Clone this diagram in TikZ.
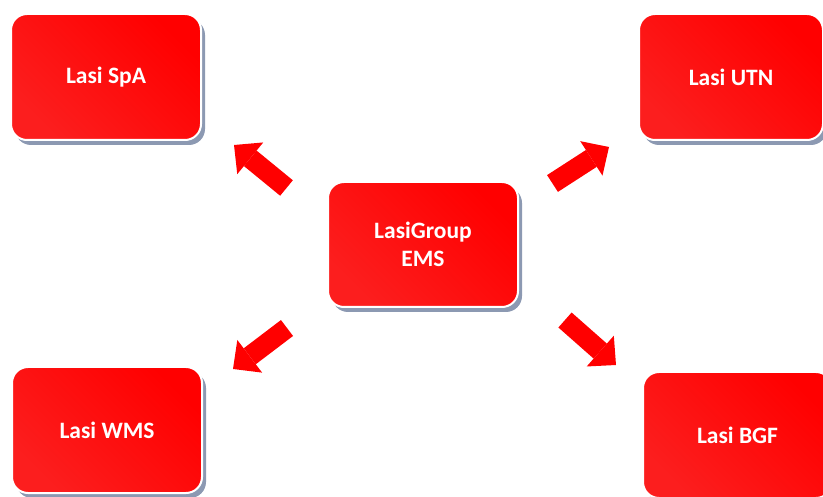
\documentclass[tikz,border=0pt]{standalone}
\usepackage{fontspec}
\setmainfont{Carlito}
\usetikzlibrary{arrows.meta,shadows}

\definecolor{boxred}{RGB}{255,0,0}
\definecolor{boxlight}{RGB}{252,30,30}
\definecolor{shadowgrey}{RGB}{140,153,178}

\begin{document}
\begin{tikzpicture}[x=1pt, y=-1pt,
            boxnode/.style={rectangle, rounded corners=16pt, draw=white, line width=2pt,
                shading=axis, top color=boxred, bottom color=boxlight, shading angle=-45,
                drop shadow={shadow xshift=4pt, shadow yshift=-5pt, fill=shadowgrey, opacity=1},
                minimum width=190pt, minimum height=126pt, align=center, text=white,
                font=\fontsize{23.5}{28}\selectfont\bfseries},
            blockarrow/.style={draw=boxred, line width=20pt,
                -{Triangle[length=21pt, width=41pt, line width=0pt]}},
        ]
        \clip (0,0) rectangle (823,497);
        \useasboundingbox (0,0) rectangle (823,497);

        %Nodes
        \node[boxnode]                      (ems) at (423,244.5) [minimum height=125pt] {LasiGroup\\EMS};
        \node[boxnode]                      (spa) at (106,77)    {Lasi SpA};
        \node[boxnode, minimum width=184pt] (utn) at (731,77)    {Lasi UTN};
        \node[boxnode]                      (wms) at (107,430)   {Lasi WMS};
        \node[boxnode, minimum width=189pt] (bgf) at (737.5,435) {Lasi BGF};

        %Arrow ends
        \coordinate (spatail) at (286.5,188);
        \coordinate (spatip)  at (234,145);
        \coordinate (utntail) at (552.5,183.5);
        \coordinate (utntip)  at (609,147);
        \coordinate (wmstail) at (287,328);
        \coordinate (wmstip)  at (233,369);
        \coordinate (bgftail) at (565,320);
        \coordinate (bgftip)  at (616,365);

        %Lines
        \draw[blockarrow] (spatail) -- (spatip);
        \draw[blockarrow] (utntail) -- (utntip);
        \draw[blockarrow] (wmstail) -- (wmstip);
        \draw[blockarrow] (bgftail) -- (bgftip);
    \end{tikzpicture}
\end{document}
